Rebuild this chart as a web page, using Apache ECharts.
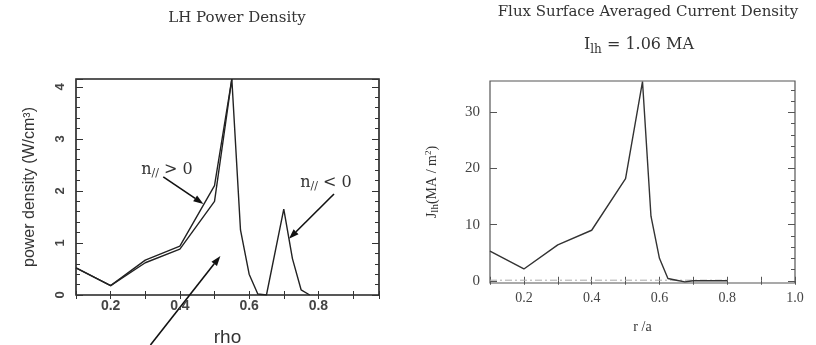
<!DOCTYPE html>
<html>
<head>
<meta charset="utf-8">
<script src="https://cdn.jsdelivr.net/npm/echarts@6/dist/echarts.min.js"></script>
<style>
  html, body { margin: 0; padding: 0; background: #fff; }
  #chart { width: 816px; height: 345px; }
</style>
</head>
<body>
<div id="chart"></div>
<script>
// left panel: LH power density vs rho
const rhoUpper = [0.1, 0.2, 0.3, 0.4, 0.5, 0.55]
const pdUpper = [0.52, 0.18, 0.67, 0.94, 2.1, 4.15]
const rhoLower = [0.1, 0.2, 0.3, 0.4, 0.5, 0.55, 0.575, 0.6, 0.625, 0.65, 0.7, 0.725, 0.75, 0.775]
const pdLower = [0.52, 0.18, 0.62, 0.88, 1.8, 4.15, 1.25, 0.4, 0.02, 0, 1.65, 0.7, 0.1, 0]

// right panel: current density vs r/a
const ra = [0.1, 0.2, 0.3, 0.4, 0.5, 0.55, 0.575, 0.6, 0.625, 0.65, 0.675, 0.7, 0.75, 0.8]
const jlh = [5.3, 2.1, 6.4, 9.0, 18.2, 35.5, 11.5, 4.0, 0.4, 0.1, -0.2, 0, 0, 0]
const zeroRef = [[0.1, 0.1], [0.8, 0.1]]

const leftXLabels = [0.2, 0.4, 0.6, 0.8]
const rightXLabels = [0.2, 0.4, 0.6, 0.8, 1.0]
const rightYMajor = [0, 10, 20, 30]
const rightYMinor = [2, 4, 6, 8, 12, 14, 16, 18, 22, 24, 26, 28, 32, 34]

// annotation arrows [from, to] in data units of the left panel
const arrows = [
  [[0.352, 2.27], [0.468, 1.75]],
  [[0.845, 1.94], [0.715, 1.08]],
  [[0.315, -0.96], [0.517, 0.75]]
]

const zip = (xs, ys) => xs.map((x, i) => [x, ys[i]])

const SERIF = "'Liberation Serif', 'DejaVu Serif', serif"
const WIDE_SERIF = "'DejaVu Serif', 'Liberation Serif', serif"
const SANS = "'Liberation Sans', Arial, sans-serif"

const tickIn = (len, color) => ({ show: true, inside: true, length: len, lineStyle: { color, width: 1 } })
const minorIn = (len, color, n) => ({ show: true, splitNumber: n, length: len, lineStyle: { color, width: 1 } })

const chart = echarts.init(document.getElementById("chart"))

const nLabel = (x, y, rel) => ({
  type: "text", x, y,
  style: {
    text: "{m|n}{s|//}{m| " + rel + " 0}", align: "center", verticalAlign: "middle",
    rich: {
      m: { fontFamily: WIDE_SERIF, fontSize: 16, fill: "#333" },
      s: { fontFamily: WIDE_SERIF, fontSize: 11, fill: "#333", padding: [7, 0, 0, 0] }
    }
  }
})

const option = {
  animation: false,
  backgroundColor: "#fff",
  grid: [
    { left: 76, right: 437, top: 79, bottom: 50, outerBoundsMode: "none", show: true, borderColor: "#222", borderWidth: 1.6, backgroundColor: "transparent" },
    { left: 490, right: 21, top: 81, bottom: 62, outerBoundsMode: "none", show: true, borderColor: "#555", borderWidth: 1.2, backgroundColor: "transparent" }
  ],
  xAxis: [
    {
      gridIndex: 0, type: "value", min: 0.1, max: 0.975, interval: 0.1,
      name: "rho", nameLocation: "middle", nameGap: 33,
      nameTextStyle: { fontFamily: SANS, fontSize: 19, color: "#333" },
      axisLine: { show: false }, splitLine: { show: false },
      axisTick: tickIn(4, "#333"),
      axisLabel: {
        fontFamily: SANS, fontWeight: "bold", fontSize: 14, color: "#444", margin: 4,
        formatter: v => leftXLabels.some(l => Math.abs(l - v) < 1e-6) ? v.toFixed(1) : ""
      }
    },
    {
      gridIndex: 0, type: "value", position: "top", min: 0.1, max: 0.975, interval: 0.1,
      axisLine: { show: false }, splitLine: { show: false }, axisLabel: { show: false },
      axisTick: tickIn(4, "#333")
    },
    {
      gridIndex: 1, type: "value", min: 0.1, max: 1.0, interval: 0.1,
      name: "r /a", nameLocation: "middle", nameGap: 37,
      nameTextStyle: { fontFamily: SERIF, fontSize: 14, color: "#333" },
      axisLine: { show: false }, splitLine: { show: false },
      axisTick: tickIn(4, "#555"),
      axisLabel: {
        fontFamily: SERIF, fontSize: 14, color: "#444", margin: 8,
        formatter: v => rightXLabels.some(l => Math.abs(l - v) < 1e-6) ? v.toFixed(1) : ""
      }
    },
    {
      gridIndex: 1, type: "value", position: "top", min: 0.1, max: 1.0, interval: 0.1,
      axisLine: { show: false }, splitLine: { show: false }, axisLabel: { show: false },
      axisTick: tickIn(4, "#555")
    }
  ],
  yAxis: [
    {
      gridIndex: 0, type: "value", min: 0, max: 4.15, interval: 1,
      name: "power density (W/cm³)", nameLocation: "middle", nameGap: 38, nameRotate: 90,
      nameTextStyle: { fontFamily: SANS, fontSize: 16, color: "#333" },
      axisLine: { show: false }, splitLine: { show: false },
      axisTick: tickIn(7, "#333"),
      minorTick: minorIn(4, "#333", 5),
      axisLabel: {
        fontFamily: SANS, fontWeight: "bold", fontSize: 13, color: "#444", rotate: 90, margin: 9,
        formatter: v => Number.isInteger(v) ? String(v) : ""
      }
    },
    {
      gridIndex: 0, type: "value", position: "right", min: 0, max: 4.15, interval: 1,
      axisLine: { show: false }, splitLine: { show: false }, axisLabel: { show: false },
      axisTick: tickIn(7, "#333"),
      minorTick: minorIn(4, "#333", 5)
    },
    {
      gridIndex: 1, type: "value", min: -0.4, max: 35.6,
      name: "{j|J}{s|lh}{j|(MA / m}{p|2}{j|)}", nameLocation: "middle", nameGap: 49, nameRotate: 90,
      nameTextStyle: {
        rich: {
          j: { fontFamily: SERIF, fontSize: 14, color: "#333" },
          s: { fontFamily: SERIF, fontSize: 11, color: "#333", verticalAlign: "bottom", padding: [6, 0, 0, 0] },
          p: { fontFamily: SERIF, fontSize: 9, color: "#333", verticalAlign: "top", padding: [0, 0, 6, 0] }
        }
      },
      axisLine: { show: false }, splitLine: { show: false },
      axisTick: { ...tickIn(7, "#555"), customValues: rightYMajor },
      axisLabel: { fontFamily: SERIF, fontSize: 15, color: "#444", margin: 10, customValues: rightYMajor }
    },
    {
      gridIndex: 1, type: "value", min: -0.4, max: 35.6,
      axisLine: { show: false }, splitLine: { show: false }, axisLabel: { show: false },
      axisTick: { ...tickIn(4, "#555"), customValues: rightYMinor }
    },
    {
      gridIndex: 1, type: "value", position: "right", min: -0.4, max: 35.6,
      axisLine: { show: false }, splitLine: { show: false }, axisLabel: { show: false },
      axisTick: { ...tickIn(7, "#555"), customValues: rightYMajor }
    },
    {
      gridIndex: 1, type: "value", position: "right", min: -0.4, max: 35.6,
      axisLine: { show: false }, splitLine: { show: false }, axisLabel: { show: false },
      axisTick: { ...tickIn(4, "#555"), customValues: rightYMinor }
    }
  ],
  series: [
    {
      type: "line", xAxisIndex: 0, yAxisIndex: 0, data: zip(rhoUpper, pdUpper),
      symbol: "none", lineStyle: { color: "#222", width: 1.4 }
    },
    {
      type: "line", xAxisIndex: 0, yAxisIndex: 0, data: zip(rhoLower, pdLower),
      symbol: "none", lineStyle: { color: "#222", width: 1.4 }
    },
    {
      type: "line", xAxisIndex: 2, yAxisIndex: 2, data: zeroRef,
      symbol: "none", lineStyle: { color: "#aaa", width: 1, type: [7, 3, 2, 3] }
    },
    {
      type: "line", xAxisIndex: 2, yAxisIndex: 2, data: zip(ra, jlh),
      symbol: "none", lineStyle: { color: "#333", width: 1.4 }
    }
  ],
  graphic: [
    {
      type: "text", x: 237, y: 18,
      style: { text: "LH Power Density", font: "15px " + WIDE_SERIF, fill: "#333", align: "center", verticalAlign: "middle" }
    },
    {
      type: "text", x: 648, y: 12,
      style: { text: "Flux Surface Averaged Current Density", font: "15px " + WIDE_SERIF, fill: "#333", align: "center", verticalAlign: "middle" }
    },
    {
      type: "text", x: 639, y: 45,
      style: {
        text: "{m|I}{s|lh}{m| = 1.06 MA}", align: "center", verticalAlign: "middle",
        rich: {
          m: { fontFamily: WIDE_SERIF, fontSize: 16, fill: "#333" },
          s: { fontFamily: WIDE_SERIF, fontSize: 12, fill: "#333", padding: [9, 0, 0, 0] }
        }
      }
    },
    nLabel(167, 170, ">"),
    nLabel(326, 183, "<")
  ]
}

chart.setOption(option)

// arrows: convert data coords of the left panel to pixels, then draw line + head
const arrowGraphics = arrows.map(([from, to]) => {
  const p0 = chart.convertToPixel({ gridIndex: 0 }, from)
  const p1 = chart.convertToPixel({ gridIndex: 0 }, to)
  const ang = Math.atan2(p1[1] - p0[1], p1[0] - p0[0])
  const hl = 10, hw = 3.5
  const bx = p1[0] - hl * Math.cos(ang), by = p1[1] - hl * Math.sin(ang)
  const nx = -Math.sin(ang) * hw, ny = Math.cos(ang) * hw
  return {
    type: "group",
    children: [
      { type: "line", shape: { x1: p0[0], y1: p0[1], x2: bx, y2: by }, style: { stroke: "#111", lineWidth: 1.6 } },
      { type: "polygon", shape: { points: [[p1[0], p1[1]], [bx + nx, by + ny], [bx - nx, by - ny]] }, style: { fill: "#111" } }
    ]
  }
})
chart.setOption({ graphic: option.graphic.concat(arrowGraphics) })
</script>
</body>
</html>
